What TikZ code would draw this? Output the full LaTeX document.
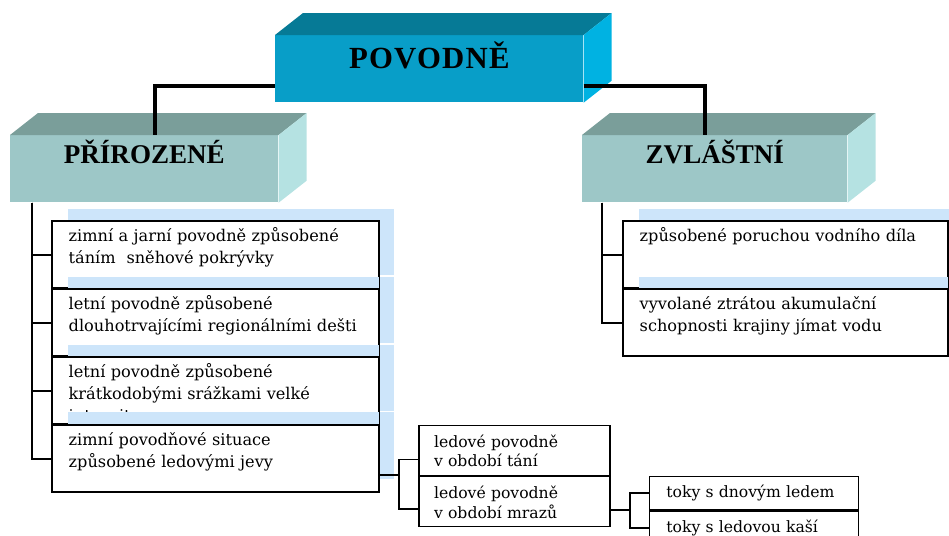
\documentclass[tikz,border=0pt]{standalone}
\usepackage{fontspec}
\setmainfont{DejaVu Serif}
\newfontfamily\headfont{Liberation Serif}
\usepackage{tikz}
\usetikzlibrary{positioning,calc,shadows}
\definecolor{povFront}{RGB}{8,158,200}
\definecolor{povTop}{RGB}{6,122,150}
\definecolor{povSide}{RGB}{0,178,226}
\definecolor{grpFront}{RGB}{157,199,199}
\definecolor{grpTop}{RGB}{122,158,154}
\definecolor{grpSide}{RGB}{181,226,226}
\definecolor{shadowBlue}{RGB}{205,229,250}

\tikzset{
  front/.style={inner sep=0pt, anchor=north west,
                font=\headfont\bfseries\fontsize{15.4}{17}\selectfont},
  itembox/.style={draw, line width=0.8pt, fill=white, anchor=north west,
                  inner xsep=0.32cm, inner ysep=0pt, text width=5.88cm, align=left,
                  text height=0.4cm, text depth=0.93cm,
                  font=\fontsize{9.2}{12.5}\selectfont},
  itemshadow/.style={general shadow={fill=shadowBlue, shadow xshift=0.3cm, shadow yshift=0.26cm}},
  icebox/.style={draw, line width=0.8pt, fill=white, anchor=north west,
                 inner xsep=0.3cm, inner ysep=0pt, text width=3.22cm, align=left,
                 text height=0.44cm, text depth=0.56cm,
                 font=\fontsize{8.9}{11}\selectfont},
  tokybox/.style={draw, line width=0.8pt, fill=white, anchor=north west,
                  minimum height=0.66cm, inner xsep=0.34cm, inner ysep=0pt,
                  text width=3.5cm, align=left, font=\fontsize{8.9}{11}\selectfont},
  trunk/.style={line width=2.2pt},
  branch/.style={line width=1pt}
}

\begin{document}
\begin{tikzpicture}[x=0.02cm, y=-0.02cm]
  \useasboundingbox (0,0) rectangle (949,535);

  % hlavicky
  \node[front, fill=povFront, minimum width=6.16cm, text height=0.66cm, text depth=0.68cm,
        font=\headfont\bfseries\fontsize{17.5}{19}\selectfont\addfontfeatures{LetterSpace=4}]
    (povodne) at (275,35) {POVODNĚ};
  \node[front, fill=grpFront, minimum width=5.36cm, text height=0.56cm, text depth=0.78cm]
    (prir) at (10,135) {PŘÍROZENÉ};
  \node[front, fill=grpFront, minimum width=5.3cm, text height=0.56cm, text depth=0.78cm]
    (zvl) at (582,135) {ZVLÁŠTNÍ};
  \foreach \n/\t/\s in {povodne/povTop/povSide, prir/grpTop/grpSide, zvl/grpTop/grpSide}{
    \fill[\t] (\n.north west) -- ++(28,-22) -- ([shift={(28,-22)}]\n.north east) -- (\n.north east) -- cycle;
    \fill[\s] (\n.north east) -- ++(28,-22) -- ([shift={(28,-22)}]\n.south east) -- (\n.south east) -- cycle;
  }

  % prirozene
  \node[itembox, itemshadow] (nat1) at (52,221) {zimní a jarní povodně způsobené\\ táním\ \ sněhové pokrývky};
  \node[itembox, itemshadow, below=0pt of nat1] (nat2) {letní povodně způsobené\\ dlouhotrvajícími regionálními dešti};
  \node[itembox, itemshadow, below=0pt of nat2] (nat3) {letní povodně způsobené\\ krátkodobými srážkami velké\\ intensity};
  \node[itembox, itemshadow, below=0pt of nat3] (nat4) {zimní povodňové situace\\ způsobené ledovými jevy};

  % zvlastni
  \node[itembox, itemshadow, text width=5.84cm] (spc1) at (623,221) {způsobené poruchou vodního díla};
  \node[itembox, itemshadow, text width=5.84cm, below=0pt of spc1] (spc2) {vyvolané ztrátou akumulační\\ schopnosti krajiny jímat vodu};

  % ramecky znovu nad stiny
  \foreach \b in {nat1,nat2,nat3,nat4,spc1,spc2}
    \draw[line width=0.8pt] (\b.north west) rectangle (\b.south east);

  % ledove jevy
  \node[icebox] (ice1) at ([xshift=0.78cm]nat4.north east) {ledové povodně\\ v období tání};
  \node[icebox, below=0pt of ice1] (ice2) {ledové povodně\\ v období mrazů};
  \node[tokybox] (tok1) at ([xshift=0.76cm]ice2.north east) {toky s dnovým ledem};
  \node[tokybox, below=0pt of tok1] (tok2) {toky s ledovou kaší};

  % spojnice
  \draw[trunk] ([yshift=0.34cm]povodne.south west) -| ([xshift=0.22cm]prir.north);
  \draw[trunk] ([yshift=0.34cm]povodne.south east) -| ([xshift=-0.19cm]zvl.north);

  \coordinate (natSpine) at ([xshift=0.44cm]prir.south west);
  \foreach \i in {1,2,3,4}
    \draw[branch] (natSpine) |- (nat\i.west);
  \coordinate (spcSpine) at ([xshift=0.4cm]zvl.south west);
  \foreach \i in {1,2}
    \draw[branch] (spcSpine) |- (spc\i.west);

  \draw[branch] ([yshift=-0.32cm]nat4.east) -- ++(20,0) coordinate (iceSpine);
  \draw[branch] (iceSpine) |- ([yshift=-0.18cm]ice1.west);
  \draw[branch] (iceSpine) |- ([yshift=-0.14cm]ice2.west);
  \draw[branch] ([yshift=-0.16cm]ice2.east) -- ++(19,0) coordinate (tokSpine);
  \draw[branch] (tokSpine) |- (tok1.west);
  \draw[branch] (tokSpine) |- (tok2.west);
\end{tikzpicture}
\end{document}
